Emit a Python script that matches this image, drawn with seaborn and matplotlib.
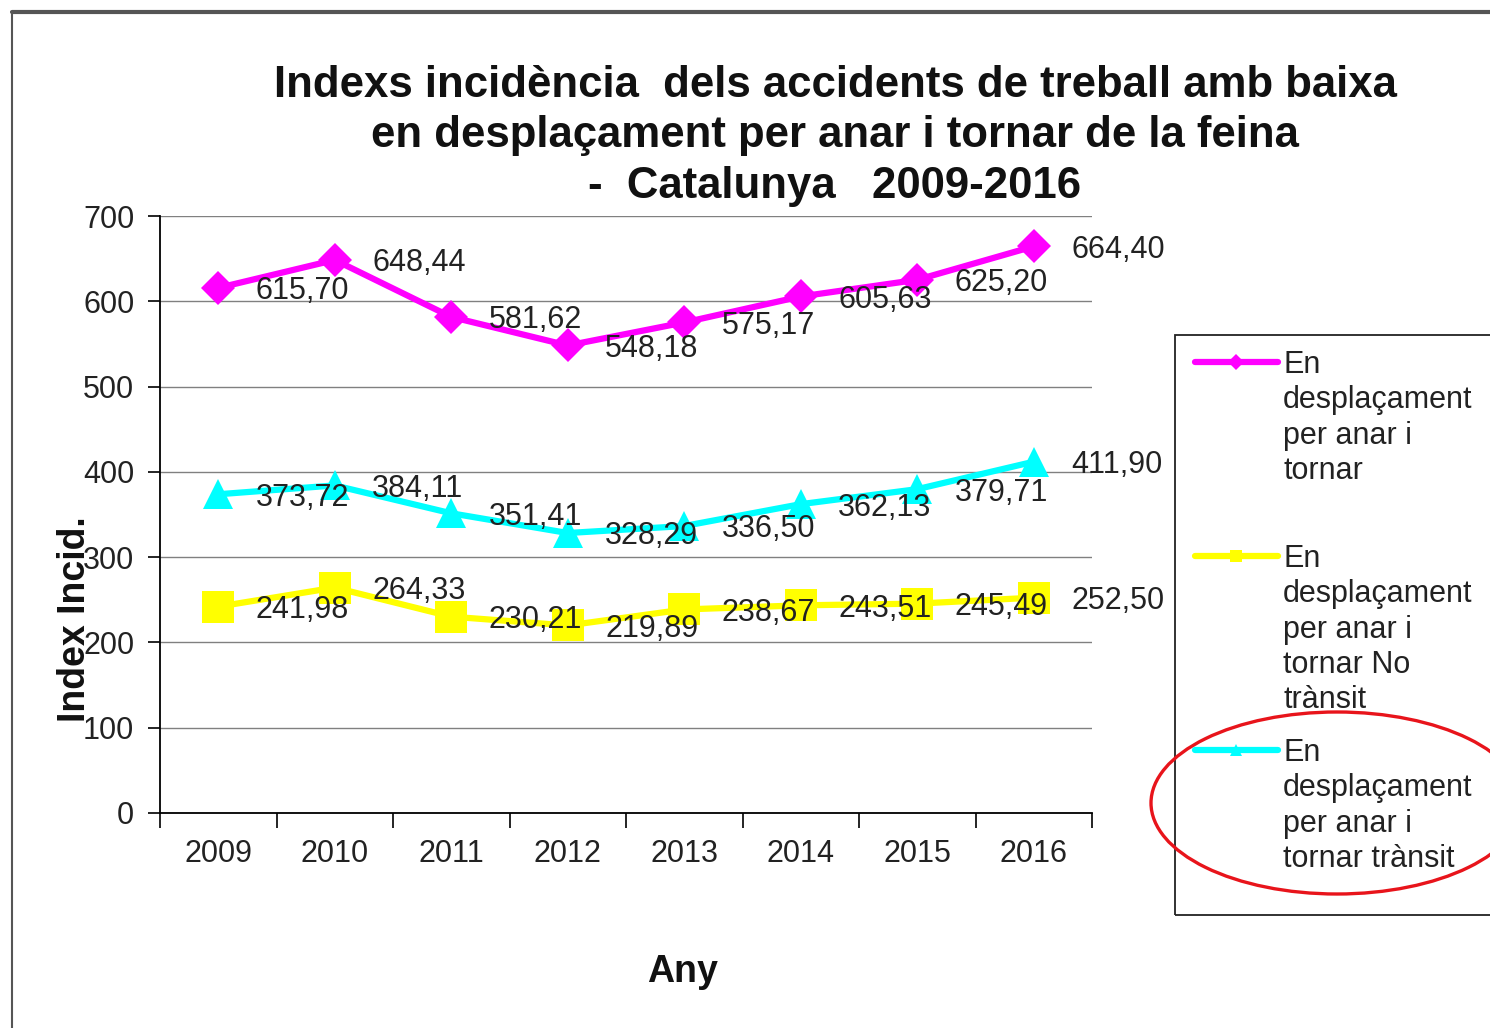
import numpy as np
import pandas as pd
import seaborn as sns
import matplotlib.pyplot as plt
from matplotlib.lines import Line2D
from matplotlib.patches import Ellipse, Rectangle

# Data
years = ['2009', '2010', '2011', '2012', '2013', '2014', '2015', '2016']
total = [615.70, 648.44, 581.62, 548.18, 575.17, 605.63, 625.20, 664.40]
no_transit = [241.98, 264.33, 230.21, 219.89, 238.67, 243.51, 245.49, 252.50]
transit = [373.72, 384.11, 351.41, 328.29, 336.50, 362.13, 379.71, 411.90]

labels = ['En\ndesplaçament\nper anar i\ntornar',
          'En\ndesplaçament\nper anar i\ntornar No\ntrànsit',
          'En\ndesplaçament\nper anar i\ntornar trànsit']
colors = ['#FF00FF', '#FFFF00', '#00FFFF']
markers = ['D', 's', '^']
msizes = [17, 23, 22]
series = [total, no_transit, transit]

title = ('Indexs incidència  dels accidents de treball amb baixa\n'
         'en desplaçament per anar i tornar de la feina\n'
         '-  Catalunya   2009-2016')

sns.set_style('white')
plt.rcParams['font.family'] = ['Liberation Sans', 'DejaVu Sans']

W, H = 1490, 1028
fig = plt.figure(figsize=(W / 100, H / 100), dpi=100)


def fx(x):
    return x / W


def fy(y):
    return 1 - y / H


ax = fig.add_axes([fx(160), fy(813), fx(1092) - fx(160), fy(216) - fy(813)])

pos = np.arange(len(years))
for vals, col, mk, ms in zip(series, colors, markers, msizes):
    df = pd.DataFrame({'pos': pos, 'val': vals})
    sns.lineplot(data=df, x='pos', y='val', ax=ax, color=col, lw=4.5,
                 marker=mk, markersize=ms, markeredgewidth=0, zorder=3)
    for p, v in zip(pos, vals):
        ax.annotate(f'{v:.2f}'.replace('.', ','), (p, v), xytext=(27, -2.5),
                    textcoords='offset points', ha='left', va='center',
                    fontsize=22, color='#222222', zorder=5, annotation_clip=False)

ax.set_xlim(-0.5, len(years) - 0.5)
ax.set_ylim(0, 700)
ax.set_yticks(range(0, 701, 100))
ax.set_xticks(pos)
ax.set_xticklabels(years)
ax.set_xticks(np.arange(-0.5, len(years), 1), minor=True)
ax.tick_params(axis='x', which='major', length=0, pad=19, labelsize=22, labelcolor='#222222')
ax.tick_params(axis='x', which='minor', length=11, width=1.2, color='black', direction='out', bottom=True)
ax.tick_params(axis='y', length=9, width=1.2, color='black', direction='out', left=True,
               pad=9.5, labelsize=22, labelcolor='#222222')
ax.grid(axis='y', color='#808080', lw=1)
ax.grid(axis='x', visible=False)
ax.set_xlabel('')
ax.set_ylabel('')
for s in ['top', 'right']:
    ax.spines[s].set_visible(False)
for s in ['left', 'bottom']:
    ax.spines[s].set_color('black')
    ax.spines[s].set_linewidth(1.3)

fig.text(fx(835), fy(136), title, ha='center', va='center', fontsize=31.5,
         fontweight='bold', linespacing=1.29, color='#111111')
fig.text(fx(75), fy(619), 'Index Incid.', rotation=90, ha='center', va='center',
         fontsize=27, fontweight='bold', color='#111111')
fig.text(fx(682), fy(972), 'Any', ha='center', va='center', fontsize=27,
         fontweight='bold', color='#111111')

# Legend box drawn by hand so the handles sit on the first text line
fig.patches.append(Rectangle((fx(1175), fy(915)), fx(1500) - fx(1175), fy(335) - fy(915),
                             transform=fig.transFigure, fill=False, ec='#222222', lw=1.3))
entry_y = [362, 556, 750]
for lab, col, mk, y in zip(labels, colors, markers, entry_y):
    fig.lines.append(Line2D([fx(1195), fx(1278)], [fy(y), fy(y)], transform=fig.transFigure,
                            color=col, lw=4.5))
    fig.lines.append(Line2D([fx(1236)], [fy(y)], transform=fig.transFigure,
                            color=col, marker=mk, markersize=8, markeredgewidth=0, lw=0))
    fig.text(fx(1283), fy(y - 12), lab, ha='left', va='top', fontsize=22,
             linespacing=1.23, color='#222222')

# Red highlight ellipse
fig.patches.append(Ellipse((fx(1337), fy(803)), fx(372), 182 / H, transform=fig.transFigure,
                           fill=False, ec='#E8141B', lw=2.4))

# Outer frame of the pasted image
fig.lines.append(Line2D([fx(12), fx(1490)], [fy(12), fy(12)], transform=fig.transFigure,
                        color='#555555', lw=3))
fig.lines.append(Line2D([fx(12), fx(12)], [fy(12), 0], transform=fig.transFigure,
                        color='#555555', lw=1.5))

fig.savefig('out.png', dpi=100, facecolor='white')
